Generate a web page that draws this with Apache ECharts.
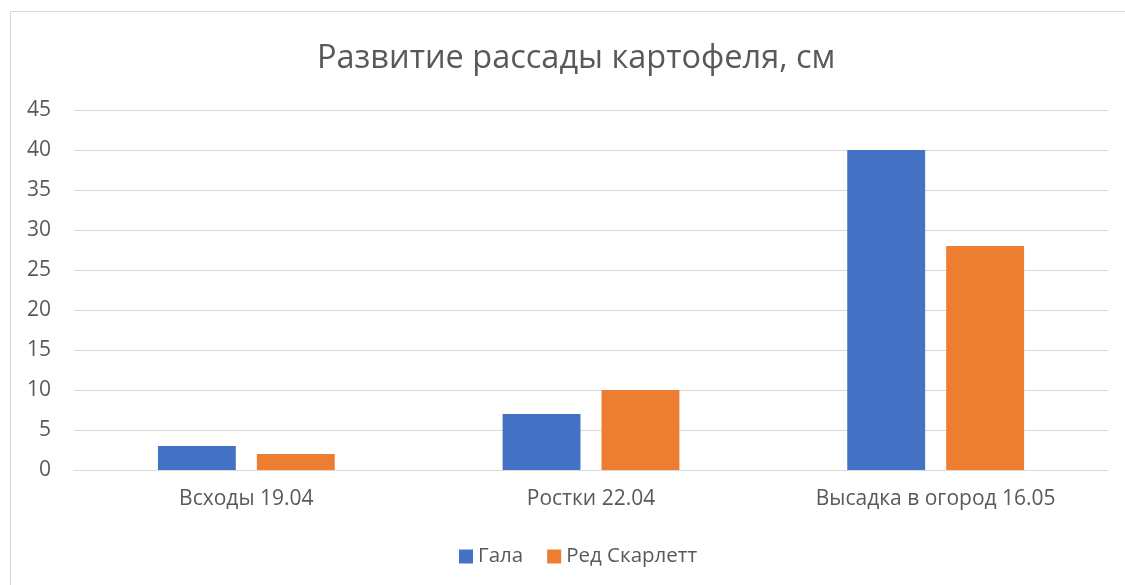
<!DOCTYPE html>
<html>
<head>
<meta charset="utf-8">
<script src="https://cdn.jsdelivr.net/npm/echarts@6/dist/echarts.min.js"></script>
<style>
  html, body { margin: 0; padding: 0; background: #fff; overflow: hidden; }
  #frame { position: absolute; left: 10px; top: 11px; width: 1130px; height: 600px; border: 1px solid #d9d9d9; }
  #main { position: absolute; left: 0; top: 0; width: 1125px; height: 585px; }
</style>
</head>
<body>
<div id="frame"></div>
<div id="main"></div>
<script>
var categories = ["Всходы 19.04", "Ростки 22.04", "Высадка в огород 16.05"];
var gala = [3, 7, 40];
var redScarlett = [2, 10, 28];

var chartDom = document.getElementById("main");
var myChart = echarts.init(chartDom);
var fontFamily = "'Open Sans', 'Noto Sans', sans-serif";

var options = {
  animation: false,
  title: {
    text: "Развитие рассады картофеля, см",
    left: 312,
    top: 37,
    textStyle: { color: "#595959", fontSize: 32.5, fontWeight: "normal", fontFamily: fontFamily },
  },
  legend: {
    data: ["Гала", "Ред Скарлетт"],
    top: 541,
    left: 454,
    itemWidth: 14,
    itemHeight: 14,
    itemGap: 24,
    icon: "rect",
    textStyle: { color: "#595959", fontSize: 20.5, fontFamily: fontFamily },
  },
  grid: { left: 74, right: 17, top: 110, bottom: 115 },
  xAxis: {
    type: "category",
    data: categories,
    axisLine: { lineStyle: { color: "#d9d9d9", width: 1 } },
    axisTick: { show: false },
    axisLabel: { color: "#595959", fontSize: 21, margin: 19, fontFamily: fontFamily },
  },
  yAxis: {
    type: "value",
    min: 0,
    max: 45,
    interval: 5,
    axisLine: { show: false },
    axisTick: { show: false },
    axisLabel: { color: "#595959", fontSize: 21, margin: 23, fontFamily: fontFamily },
    splitLine: { lineStyle: { color: "#d9d9d9", width: 1 } },
  },
  series: [
    {
      name: "Гала",
      type: "bar",
      data: gala,
      barWidth: "22.6%",
      barGap: "27%",
      itemStyle: { color: "#4472C4" },
    },
    {
      name: "Ред Скарлетт",
      type: "bar",
      data: redScarlett,
      barWidth: "22.6%",
      barGap: "27%",
      itemStyle: { color: "#ED7D31" },
    },
  ],
};

options && myChart.setOption(options);
</script>
</body>
</html>
